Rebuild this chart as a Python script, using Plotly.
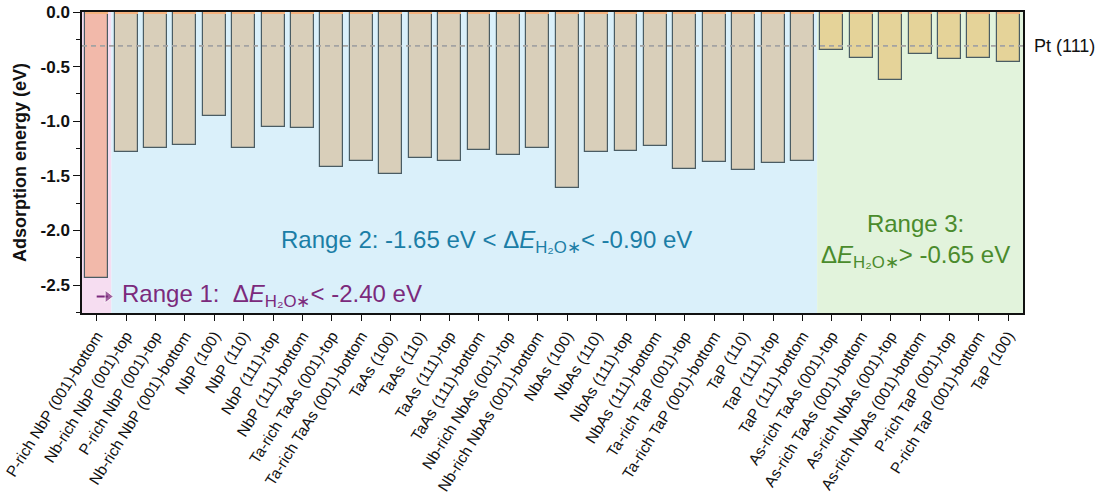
import plotly.graph_objects as go

# Surface terminations, grouped by adsorption-energy range
range1_labels = ["P-rich NbP (001)-bottom"]
range2_labels = [
    "Nb-rich NbP (001)-top", "P-rich NbP (001)-top", "Nb-rich NbP (001)-bottom",
    "NbP (100)", "NbP (110)", "NbP (111)-top", "NbP (111)-bottom",
    "Ta-rich TaAs (001)-top", "Ta-rich TaAs (001)-bottom", "TaAs (100)", "TaAs (110)",
    "TaAs (111)-top", "TaAs (111)-bottom", "Nb-rich NbAs (001)-top",
    "Nb-rich NbAs (001)-bottom", "NbAs (100)", "NbAs (110)", "NbAs (111)-top",
    "NbAs (111)-bottom", "Ta-rich TaP (001)-top", "Ta-rich TaP (001)-bottom",
    "TaP (110)", "TaP (111)-top", "TaP (111)-bottom",
]
range3_labels = [
    "As-rich TaAs (001)-top", "As-rich TaAs (001)-bottom", "As-rich NbAs (001)-top",
    "As-rich NbAs (001)-bottom", "P-rich TaP (001)-top", "P-rich TaP (001)-bottom",
    "TaP (100)",
]

# Water adsorption energies (eV)
range1_values = [-2.44]
range2_values = [
    -1.28, -1.245, -1.215, -0.95, -1.245, -1.053, -1.062, -1.423, -1.365, -1.481,
    -1.334, -1.365, -1.264, -1.313, -1.245, -1.615, -1.282, -1.273, -1.231, -1.435,
    -1.377, -1.444, -1.383, -1.365,
]
range3_values = [-0.352, -0.418, -0.62, -0.388, -0.431, -0.418, -0.458]

pt111_value = -0.31

y_tickvals = [0.0, -0.5, -1.0, -1.5, -2.0, -2.5]
y_ticktext = ["0.0", "-0.5", "-1.0", "-1.5", "-2.0", "-2.5"]

FONT = "Arial"
C_R1, C_R2, C_R3 = "#7B2A7C", "#1B7EA6", "#4A8B2C"

labels = range1_labels + range2_labels + range3_labels
values = range1_values + range2_values + range3_values
fills = (["#F2B9AA"] * len(range1_labels) + ["#D9CFBA"] * len(range2_labels)
         + ["#E5D399"] * len(range3_labels))

n1, n2, n3 = len(range1_labels), len(range2_labels), len(range3_labels)
n = n1 + n2 + n3
BAR_W = 0.78

fig = go.Figure()
fig.add_trace(go.Bar(
    x=list(range(n)), y=values, width=BAR_W,
    marker=dict(color=fills, line=dict(color="#4A5C63", width=1.2)),
    showlegend=False,
))
# thin warm rim along the top of every bar
fig.add_trace(go.Bar(
    x=list(range(n)), y=[-0.012] * n, width=BAR_W,
    marker=dict(color="#F5B27E", line=dict(width=0)),
    showlegend=False, hoverinfo="skip",
))
# small pointer from the Range 1 column towards its label
fig.add_trace(go.Scatter(
    x=[0.0, n1 - 0.62], y=[-2.605, -2.605], mode="lines+markers",
    line=dict(color=C_R1, width=2),
    marker=dict(symbol=["circle", "triangle-right"], size=[0, 11], color=C_R1),
    showlegend=False, hoverinfo="skip", cliponaxis=False,
))

shapes = [
    dict(type="rect", xref="x", yref="paper", x0=-0.5, x1=n1 - 0.5, y0=0, y1=1,
         fillcolor="#F6DDF1", line=dict(width=0), layer="below"),
    dict(type="rect", xref="x", yref="paper", x0=n1 - 0.5, x1=n1 + n2 - 0.5, y0=0, y1=1,
         fillcolor="#DAF0FA", line=dict(width=0), layer="below"),
    dict(type="rect", xref="x", yref="paper", x0=n1 + n2 - 0.5, x1=n - 0.5, y0=0, y1=1,
         fillcolor="#E2F3DC", line=dict(width=0), layer="below"),
    dict(type="line", xref="paper", yref="y", x0=0, x1=1, y0=pt111_value, y1=pt111_value,
         line=dict(color="#A3A3A3", width=1.6, dash="5px,4px"), layer="above"),
]

sub = "Δ<i>E</i><sub>H₂O∗</sub>"
annotations = [
    dict(text="Pt (111)", xref="paper", yref="y", x=1.0095, y=pt111_value,
         xanchor="left", yanchor="middle", showarrow=False,
         font=dict(family=FONT, size=18, color="#111111")),
    dict(text=f"Range 1:  {sub}&lt; -2.40 eV", xref="x", yref="y", x=0.8, y=-2.6,
         xanchor="left", yanchor="middle", showarrow=False,
         font=dict(family=FONT, size=24, color=C_R1)),
    dict(text=f"Range 2: -1.65 eV &lt; {sub}&lt; -0.90 eV", xref="x", yref="y",
         x=13.25, y=-2.1, xanchor="center", yanchor="middle", showarrow=False,
         font=dict(family=FONT, size=24, color=C_R2)),
    dict(text=f"Range 3:<br>{sub}&gt; -0.65 eV", xref="x", yref="y",
         x=27.85, y=-2.095, xanchor="center", yanchor="middle", showarrow=False,
         align="center", font=dict(family=FONT, size=24, color=C_R3)),
]

fig.update_layout(
    width=1099, height=499,
    margin=dict(l=82, r=76, t=12, b=186),
    paper_bgcolor="white", plot_bgcolor="white",
    barmode="overlay", bargap=0,
    font=dict(family=FONT, color="#111111"),
    shapes=shapes, annotations=annotations,
)
fig.update_xaxes(
    range=[-0.5, n - 0.5], automargin=False, ticklabeloverflow="allow",
    tickmode="array", tickvals=list(range(n)), ticktext=labels,
    showline=True, linecolor="#111111", linewidth=1.5, mirror=True,
    ticks="outside", ticklen=6, tickwidth=1.2, tickcolor="#111111",
    tickangle=-58, tickfont=dict(family=FONT, size=15.5, color="#111111"),
    showgrid=False, zeroline=False,
)
fig.update_yaxes(
    range=[-2.756, 0], automargin=False, ticklabeloverflow="allow",
    tickmode="array", tickvals=y_tickvals, ticktext=y_ticktext,
    showline=True, linecolor="#111111", linewidth=1.5, mirror=True,
    ticks="outside", ticklen=7, tickwidth=1.2, tickcolor="#111111",
    minor=dict(tickmode="linear", tick0=0, dtick=0.25, ticks="outside",
               ticklen=4, tickwidth=1.2, tickcolor="#111111", showgrid=False),
    tickfont=dict(family=FONT, size=17, color="#111111", weight="bold"),
    title=dict(text="<b>Adsorption energy (eV)</b>", standoff=9,
               font=dict(family=FONT, size=18, color="#111111")),
    showgrid=False, zeroline=False,
)

fig.write_html("out.html")
